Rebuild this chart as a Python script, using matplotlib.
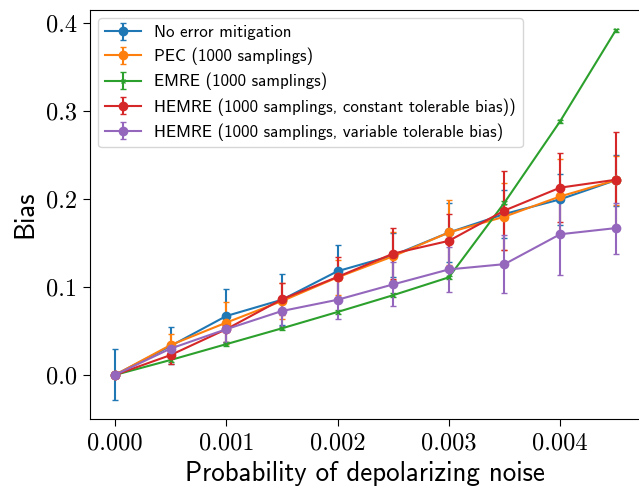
import numpy as np
import matplotlib
matplotlib.use("Agg")
import matplotlib.pyplot as plt

# noise probabilities
p = [0.0, 0.0005, 0.001, 0.0015, 0.002, 0.0025, 0.003, 0.0035, 0.004, 0.0045]

# bias values
bias_none = [0.0, 0.033, 0.067, 0.0855, 0.118, 0.136, 0.162, 0.183, 0.1997, 0.2215]
err_none = [0.029, 0.021, 0.031, 0.029, 0.030, 0.025, 0.034, 0.027, 0.029, 0.029]

bias_pec = [0.0, 0.034, 0.0595, 0.084, 0.111, 0.135, 0.162, 0.180, 0.203, 0.2215]
err_pec = [0.0, 0.012, 0.024, 0.020, 0.020, 0.027, 0.037, 0.038, 0.043, 0.028]

bias_emre = [0.0, 0.017, 0.035, 0.053, 0.0716, 0.0907, 0.111, 0.196, 0.2885, 0.392]
err_emre = [0.0, 0.002, 0.002, 0.002, 0.002, 0.002, 0.002, 0.002, 0.002, 0.002]

bias_hc = [0.0, 0.0226, 0.052, 0.086, 0.1115, 0.138, 0.1525, 0.187, 0.213, 0.222]
err_hc = [0.0, 0.010, 0.015, 0.018, 0.023, 0.029, 0.031, 0.045, 0.039, 0.054]

bias_hv = [0.0, 0.030, 0.052, 0.0727, 0.0855, 0.103, 0.12, 0.126, 0.16, 0.167]
err_hv = [0.0, 0.008, 0.015, 0.017, 0.022, 0.025, 0.026, 0.033, 0.046, 0.029]

labels = ["No error mitigation",
          "PEC (1000 samplings)",
          "EMRE (1000 samplings)",
          "HEMRE (1000 samplings, constant tolerable bias))",
          "HEMRE (1000 samplings, variable tolerable bias)"]

fig = plt.figure(figsize=(6.39, 4.87), dpi=100)
ax = fig.add_axes([0.1408, 0.1396, 0.862, 0.84])

ax.errorbar(p, bias_none, yerr=err_none, color="tab:blue", marker="o", ms=6, capsize=2, label=labels[0])
ax.errorbar(p, bias_pec, yerr=err_pec, color="tab:orange", marker="o", ms=6, capsize=2, label=labels[1])
ax.errorbar(p, bias_emre, yerr=err_emre, color="tab:green", marker="x", ms=3, capsize=2, label=labels[2])
ax.errorbar(p, bias_hc, yerr=err_hc, color="tab:red", marker="o", ms=6, capsize=2, label=labels[3])
ax.errorbar(p, bias_hv, yerr=err_hv, color="tab:purple", marker="o", ms=6, capsize=2, label=labels[4])

ax.set_xticks([0.0, 0.001, 0.002, 0.003, 0.004])
ax.set_xticklabels(["0.000", "0.001", "0.002", "0.003", "0.004"], fontfamily="cmr10", fontsize=17.5)
ax.set_yticks([0.0, 0.1, 0.2, 0.3, 0.4])
ax.set_yticklabels(["0.0", "0.1", "0.2", "0.3", "0.4"], fontfamily="cmr10", fontsize=17.5)
ax.tick_params(length=5, pad=4.3)

ax.set_xlabel("Probability of depolarizing noise", fontfamily="cmss10", fontsize=19.4, labelpad=5)
ax.set_ylabel("Bias", fontfamily="cmss10", fontsize=19.4, labelpad=6)

ax.legend(loc="upper left", prop={"family": "cmss10", "size": 12.2}, handlelength=2.1,
          labelspacing=0.45)

fig.savefig("out.png", dpi=100)
